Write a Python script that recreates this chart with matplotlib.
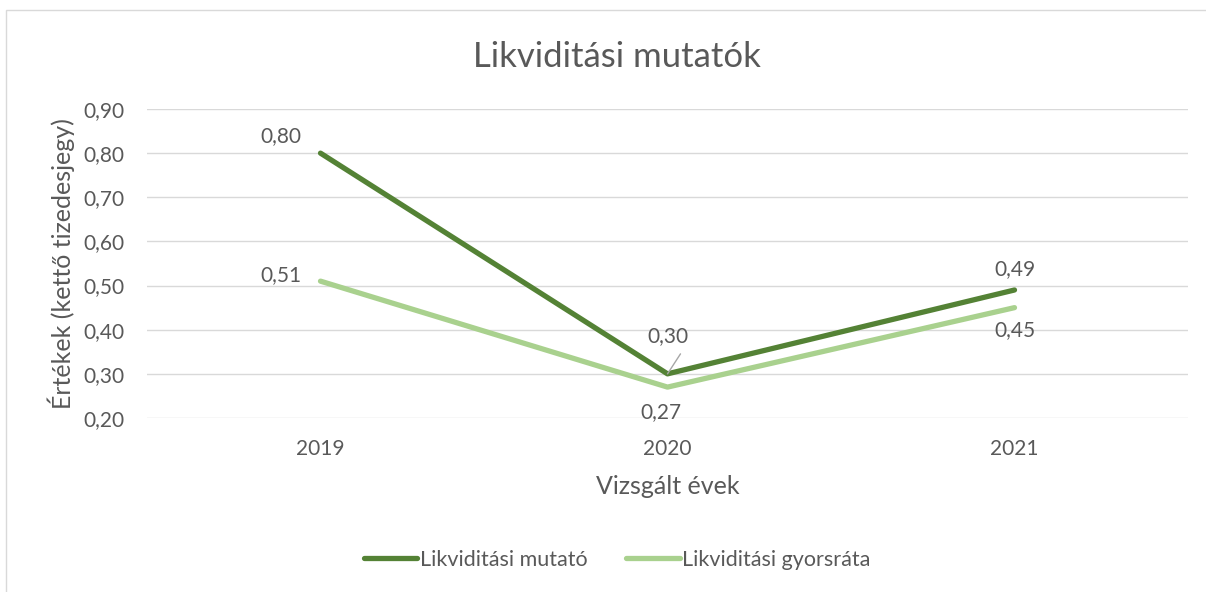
import matplotlib.pyplot as plt
from matplotlib.patches import Rectangle

plt.rcParams['font.family'] = ['Lato', 'DejaVu Sans']

years = ["2019", "2020", "2021"]
mutato = [0.80, 0.30, 0.49]
gyorsrata = [0.51, 0.27, 0.45]
mutato_labels = ["0,80", "0,30", "0,49"]
gyors_labels = ["0,51", "0,27", "0,45"]
yticks = [0.20, 0.30, 0.40, 0.50, 0.60, 0.70, 0.80, 0.90]

dark = '#548235'
light = '#A9D18E'
txt = '#595959'

fig = plt.figure(figsize=(12.06, 5.92), dpi=100)
W, H = 1206, 592
ax = fig.add_axes([147 / W, 1 - 418 / H, (1188 - 147) / W, (418 - 109) / H])

# chart frame (only top/left edges visible in the reference)
fig.patches.append(Rectangle((6 / W, -0.1), 1.2, 1 - 10 / H + 0.1, transform=fig.transFigure,
                             fill=False, edgecolor='#d9d9d9', linewidth=1))

x = range(len(years))
ax.plot(x, mutato, color=dark, lw=3.8, label="Likviditási mutató", solid_capstyle='round', zorder=3)
ax.plot(x, gyorsrata, color=light, lw=3.8, label="Likviditási gyorsráta", solid_capstyle='round', zorder=2)

ax.set_xlim(-0.5, 2.5)
ax.set_ylim(0.2, 0.9)
ax.set_yticks(yticks)
ax.set_yticklabels([f"{v:.2f}".replace('.', ',') for v in yticks])
ax.set_xticks(list(x))
ax.set_xticklabels(years)
ax.yaxis.grid(True, color='#d9d9d9', lw=1)
ax.set_axisbelow(True)
for s in ax.spines.values():
    s.set_visible(False)
ax.tick_params(length=0, labelsize=15, colors=txt)
ax.tick_params(axis='y', pad=16)
ax.tick_params(axis='x', pad=15)

ax.set_ylabel("Értékek (kettő tizedesjegy)", fontsize=18, color=txt, labelpad=6)
ax.set_xlabel("Vizsgált évek", fontsize=18, color=txt, labelpad=12)
fig.text(617 / W, 1 - 57 / H, "Likviditási mutatók", ha='center', va='center', fontsize=25, color=txt)

m_off = [(-40, 17), (0, 38), (0, 21)]
g_off = [(-40, 6), (-7, -25), (0, -22)]
for i in x:
    ax.annotate(mutato_labels[i], (i, mutato[i]), xytext=m_off[i], textcoords='offset pixels',
                ha='center', va='center', fontsize=15, color=txt)
    ax.annotate(gyors_labels[i], (i, gyorsrata[i]), xytext=g_off[i], textcoords='offset pixels',
                ha='center', va='center', fontsize=15, color=txt)
# leader line for 0,30
ax.annotate("", (1, mutato[1]), xytext=(13, 20), textcoords='offset pixels',
            arrowprops=dict(arrowstyle='-', color='#a6a6a6', lw=1, shrinkA=0, shrinkB=0))

fig.legend(loc='center', bbox_to_anchor=(617 / W, 1 - 560 / H), ncol=2, frameon=False,
           fontsize=15.5, handlelength=2.5, handletextpad=0.1, columnspacing=1.8,
           labelcolor=txt)

fig.savefig('out.png', dpi=100)
